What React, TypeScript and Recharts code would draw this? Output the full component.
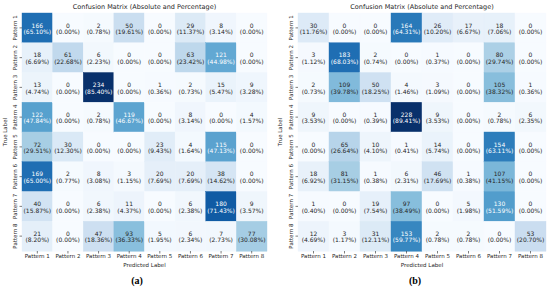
import { BarChart, Bar, XAxis, YAxis } from "recharts";

const PATTERNS = ["Pattern 1", "Pattern 2", "Pattern 3", "Pattern 4", "Pattern 5", "Pattern 6", "Pattern 7", "Pattern 8"];
const TITLE = "Confusion Matrix (Absolute and Percentage)";

// rows = true label, columns = predicted label
const COUNTS_A = [
  [166, 0, 2, 50, 0, 29, 8, 0],
  [18, 61, 6, 0, 0, 63, 121, 0],
  [13, 0, 234, 0, 1, 2, 15, 9],
  [122, 0, 2, 119, 0, 8, 0, 4],
  [72, 30, 0, 0, 23, 4, 115, 0],
  [169, 2, 8, 3, 20, 20, 38, 0],
  [40, 0, 6, 11, 0, 6, 180, 9],
  [21, 0, 47, 93, 5, 6, 7, 77],
];

const COUNTS_B = [
  [30, 0, 0, 164, 26, 17, 18, 0],
  [3, 183, 2, 0, 1, 0, 80, 0],
  [2, 109, 50, 4, 3, 0, 105, 1],
  [9, 0, 1, 228, 9, 0, 2, 6],
  [0, 65, 10, 1, 14, 0, 154, 0],
  [18, 81, 1, 6, 46, 1, 107, 0],
  [1, 0, 19, 97, 0, 5, 130, 0],
  [12, 3, 31, 153, 2, 2, 0, 53],
];

const BLUES = ["#f7fbff", "#deebf7", "#c6dbef", "#9ecae1", "#6baed6", "#4292c6", "#2171b5", "#08519c", "#08306b"];
const TEXT = "#262626";

const hex = (h: string) => [1, 3, 5].map((k) => parseInt(h.slice(k, k + 2), 16));

function blues(t: number) {
  const p = Math.max(0, Math.min(1, t)) * (BLUES.length - 1);
  const i = Math.min(Math.floor(p), BLUES.length - 2);
  const f = p - i;
  const a = hex(BLUES[i]);
  const b = hex(BLUES[i + 1]);
  return a.map((c, k) => Math.round(c + (b[k] - c) * f));
}

function luminance(rgb: number[]) {
  const lin = rgb.map((c) => {
    const s = c / 255;
    return s <= 0.03928 ? s / 12.92 : Math.pow((s + 0.055) / 1.055, 2.4);
  });
  return 0.2126 * lin[0] + 0.7152 * lin[1] + 0.0722 * lin[2];
}

const RowTick = (props: any) => {
  const { x, y, payload } = props;
  return (
    <text x={x} y={y} transform={`rotate(-90 ${x} ${y})`} textAnchor="middle" fontSize={5.5} fill={TEXT}>
      {payload.value}
    </text>
  );
};

interface MatrixProps {
  counts: number[][];
  panel: string;
  left: number;
  axisWidth: number;
  rightMargin: number;
  panelLabelX: number;
}

function Matrix({ counts, panel, left, axisWidth, rightMargin, panelLabelX }: MatrixProps) {
  const rowSums = counts.map((r) => r.reduce((s, v) => s + v, 0));
  const pcts = counts.map((r, i) => r.map((v) => (v / rowSums[i]) * 100));
  const vmax = Math.max(...pcts.flat());
  const data = PATTERNS.map((name, i) => {
    const row: Record<string, string | number> = { name, row: i };
    PATTERNS.forEach((_, j) => (row[`c${j}`] = 1));
    return row;
  });
  const plotLeft = axisWidth;
  const plotRight = 275 - rightMargin;
  const cx = (plotLeft + plotRight) / 2;

  const cellShape = (j: number) => (props: any) => {
    const { x, y, width, height, payload } = props;
    const i = payload.row;
    const v = counts[i][j];
    const pct = pcts[i][j];
    const rgb = blues(pct / vmax);
    const fill = `rgb(${rgb.join(",")})`;
    const color = luminance(rgb) > 0.408 ? TEXT : "#ffffff";
    const mx = x + width / 2;
    const my = y + height / 2;
    return (
      <g>
        <rect x={x} y={y} width={width} height={height} fill={fill} stroke={fill} strokeWidth={0.4} />
        <text x={mx} y={my - 3} textAnchor="middle" dominantBaseline="central" fontSize={6} fill={color}>
          {v}
        </text>
        <text x={mx} y={my + 3.5} textAnchor="middle" dominantBaseline="central" fontSize={6} fill={color}>
          {`(${pct.toFixed(2)}%)`}
        </text>
      </g>
    );
  };

  return (
    <div style={{ position: "absolute", left, top: 0, width: 275, height: 288 }}>
      <BarChart
        layout="vertical"
        width={275}
        height={288}
        data={data}
        margin={{ top: 13, right: rightMargin, bottom: 27, left: 0 }}
        barCategoryGap={0}
        barGap={0}
      >
        <XAxis
          type="number"
          domain={[0, 8]}
          ticks={[0.5, 1.5, 2.5, 3.5, 4.5, 5.5, 6.5, 7.5]}
          interval={0}
          tickFormatter={(v: number) => PATTERNS[Math.floor(v)]}
          axisLine={false}
          tickLine={{ stroke: TEXT, strokeWidth: 0.6 }}
          tickSize={2.5}
          tickMargin={1}
          height={10}
          tick={{ fontSize: 5.5, fill: TEXT }}
        />
        <YAxis
          type="category"
          dataKey="name"
          width={axisWidth}
          interval={0}
          axisLine={false}
          tickLine={{ stroke: TEXT, strokeWidth: 0.6 }}
          tickSize={2.5}
          tickMargin={2.5}
          tick={<RowTick />}
        />
        {PATTERNS.map((p, j) => (
          <Bar key={p} dataKey={`c${j}`} stackId="cm" isAnimationActive={false} shape={cellShape(j)} />
        ))}
      </BarChart>
      <svg width={275} height={288} style={{ position: "absolute", left: 0, top: 0, pointerEvents: "none" }}>
        <text x={cx} y={7} textAnchor="middle" dominantBaseline="central" fontSize={6.5} fill={TEXT}>
          {TITLE}
        </text>
        <text x={cx} y={265} textAnchor="middle" dominantBaseline="central" fontSize={5.5} fill={TEXT}>
          Predicted Label
        </text>
        <text x={5} y={132} transform="rotate(-90 5 132)" textAnchor="middle" dominantBaseline="central" fontSize={5.5} fill={TEXT}>
          True Label
        </text>
        <text
          x={panelLabelX}
          y={280}
          textAnchor="middle"
          dominantBaseline="central"
          fontSize={10}
          fontWeight="bold"
          fontFamily="'Liberation Serif', serif"
          fill="#000"
        >
          {panel}
        </text>
      </svg>
    </div>
  );
}

export default function App() {
  return (
    <div
      style={{
        position: "absolute",
        left: 0,
        top: 0,
        width: 550,
        height: 288,
        background: "#fff",
        fontFamily: "'DejaVu Sans', sans-serif",
      }}
    >
      <Matrix counts={COUNTS_A} panel="(a)" left={0} axisWidth={22} rightMargin={8} panelLabelX={137} />
      <Matrix counts={COUNTS_B} panel="(b)" left={275} axisWidth={23} rightMargin={4} panelLabelX={140} />
    </div>
  );
}
